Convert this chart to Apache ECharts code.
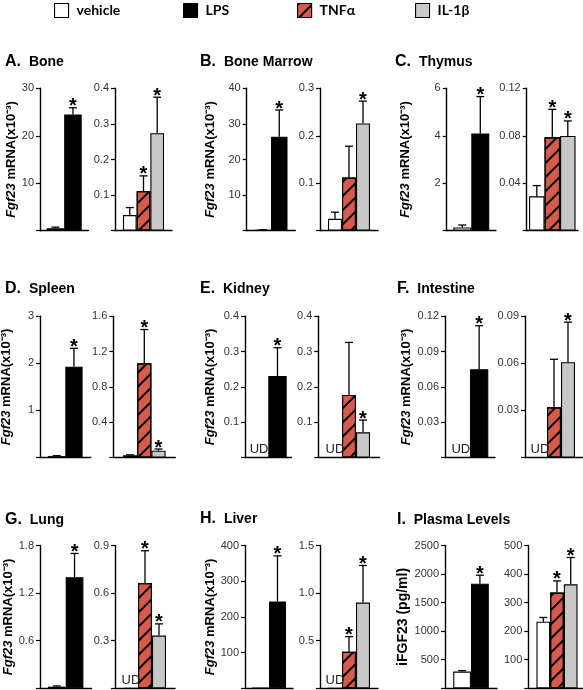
<!DOCTYPE html>
<html><head><meta charset="utf-8">
<script src="https://cdn.jsdelivr.net/npm/echarts@6.0.0/dist/echarts.min.js"></script>
<style>html,body{margin:0;padding:0;background:#fff}#c{width:583px;height:690px}</style>
</head><body><div id="c"></div>
<script>
// ---------------- data ----------------
const groups = ['vehicle', 'LPS', 'TNFα', 'IL-1β'];
const panelLetters = ['A.', 'B.', 'C.', 'D.', 'E.', 'F.', 'G.', 'H.', 'I.'];
const panelNames = ['Bone', 'Bone Marrow', 'Thymus', 'Spleen', 'Kidney', 'Intestine', 'Lung', 'Liver', 'Plasma Levels'];
// left sub-panel: vehicle vs LPS
const vehicleL    = [0.5, 0.2, 0.14, 0.03, 'UD', 'UD', 0.02, 1, 293];
const vehicleLErr = [0.25, 0.05, 0.1, 0.01, 0, 0, 0.01, 0, 17];
const lps         = [24.5, 26.4, 4.1, 1.93, 0.231, 0.075, 1.40, 243, 1830];
const lpsErr      = [1.4, 7.5, 1.55, 0.39, 0.08, 0.037, 0.30, 128, 150];
const lpsSig      = [1, 1, 1, 1, 1, 1, 1, 1, 1];
// right sub-panel: vehicle vs TNFα vs IL-1β
const vehicleR    = [0.044, 0.025, 0.029, 0.025, 'UD', 'UD', 'UD', 'UD', 233];
const vehicleRErr = [0.021, 0.014, 0.009, 0.005, 0, 0, 0, 0, 15];
const tnf         = [0.111, 0.112, 0.0787, 1.067, 0.177, 0.032, 0.663, 0.385, 335];
const tnfErr      = [0.043, 0.066, 0.0236, 0.383, 0.149, 0.0306, 0.204, 0.158, 41];
const tnfSig      = [1, 0, 1, 1, 0, 0, 1, 1, 1];
const il1b        = [0.274, 0.226, 0.0798, 0.077, 0.0714, 0.0607, 0.332, 0.90, 364];
const il1bErr     = [0.101, 0.047, 0.0127, 0.019, 0.0346, 0.0256, 0.074, 0.39, 94];
const il1bSig     = [1, 1, 1, 1, 1, 1, 1, 1, 1];
// axes (tick labels)
const leftMax  = [30, 40, 6, 3, 0.4, 0.12, 1.8, 400, 2500];
const leftInt  = [10, 10, 2, 1, 0.1, 0.03, 0.6, 100, 500];
const leftDec  = [0, 0, 0, 0, 1, 2, 1, 0, 0];
const rightMax = [0.4, 0.3, 0.12, 1.6, 0.4, 0.09, 0.9, 1.5, 500];
const rightInt = [0.1, 0.1, 0.04, 0.4, 0.1, 0.03, 0.3, 0.5, 100];
const rightDec = [1, 1, 2, 1, 1, 2, 1, 1, 0];

// ---------------- layout / style ----------------
const colors = { 'vehicle': '#ffffff', 'LPS': '#000000', 'TNFα': '#d85a4a', 'IL-1β': '#c8c8c8' };
const rowTop = [88.3, 316.3, 545.5];
const rowBot = [230.7, 457.5, 688.3];
// per sub-panel: [axisX, barsCenter, barWidth]
const subLayout = [
  [40, 64.2, 17.5], [115, 143.5, 13.7],
  [246.7, 271, 16.5], [320, 349, 14],
  [446.7, 471.3, 18], [526.7, 552.3, 15.5],
  [40, 65.3, 17.3], [113.3, 144.3, 14.2],
  [245, 268.3, 18.4], [318.3, 349, 14],
  [445, 470, 18.3], [525, 554, 14],
  [40, 65.7, 17.7], [115, 145, 14],
  [245, 269, 17], [320, 349, 14],
  [445, 471, 17.8], [528.3, 557, 13.7]
];
const nameGaps = [22, 30, 35, 27, 28, 32, 19, 23, 28];
const titlePos = [[5, 54], [200, 54], [395, 54], [5, 281], [200, 281], [397, 281], [5, 512], [200, 511], [397, 512]];
const legendLeft = [54, 183, 297, 415];

const FONT = "'Liberation Sans', Arial, sans-serif";
const decal = { symbol: 'rect', symbolSize: 1, color: '#000', dashArrayX: [1, 0], dashArrayY: [1.1, 8], rotation: -Math.PI / 4 };

function itemStyleFor(g) {
  const s = { color: colors[g], borderColor: '#000', borderWidth: 1.1 };
  if (g === 'TNFα') s.decal = decal;
  return s;
}

function errRender(n, bw) {
  return function (params, api) {
    const v = api.value(1), e = api.value(2), sig = api.value(3), slot = api.value(4);
    const p0 = api.coord([0, v]);
    const p1 = api.coord([0, v + e]);
    const x = p0[0] + (slot - (n - 1) / 2) * bw;
    const ch = [
      { type: 'line', shape: { x1: x, y1: p0[1], x2: x, y2: p1[1] }, style: { stroke: '#000', lineWidth: 1.3 } },
      { type: 'line', shape: { x1: x - 4, y1: p1[1], x2: x + 4, y2: p1[1] }, style: { stroke: '#000', lineWidth: 1.3 } }
    ];
    if (sig) ch.push({ type: 'text', x: x, y: p1[1] - 1, style: { text: '*', fontSize: 20, fontWeight: 'bold', fill: '#000', align: 'center', verticalAlign: 'middle', fontFamily: FONT } });
    return { type: 'group', children: ch };
  };
}

const grid = [], xAxis = [], yAxis = [], series = [], title = [], legend = [];

for (let p = 0; p < 9; p++) {
  const row = Math.floor(p / 3);
  title.push({
    left: titlePos[p][0], top: titlePos[p][1], padding: 0,
    text: '{a|' + panelLetters[p] + '}{b| ' + panelNames[p] + '}',
    textStyle: { rich: {
      a: { fontSize: 16, fontWeight: 'bold', fontFamily: FONT, color: '#000' },
      b: { fontSize: 14, fontWeight: 'bold', fontFamily: FONT, color: '#000', padding: [0, 0, 0, 4] }
    } }
  });
  const subs = [
    { groups: ['vehicle', 'LPS'], vals: [vehicleL[p], lps[p]], errs: [vehicleLErr[p], lpsErr[p]], sigs: [0, lpsSig[p]], max: leftMax[p], int: leftInt[p], dec: leftDec[p], left: true },
    { groups: ['vehicle', 'TNFα', 'IL-1β'], vals: [vehicleR[p], tnf[p], il1b[p]], errs: [vehicleRErr[p], tnfErr[p], il1bErr[p]], sigs: [0, tnfSig[p], il1bSig[p]], max: rightMax[p], int: rightInt[p], dec: rightDec[p], left: false }
  ];
  subs.forEach((s, k) => {
    const gi = p * 2 + k;
    const L = subLayout[gi];
    const w = 2 * (L[1] - L[0]);
    grid.push({ left: L[0], top: rowTop[row], width: w, height: rowBot[row] - rowTop[row], containLabel: false, outerBoundsMode: 'none' });
    xAxis.push({ type: 'category', gridIndex: gi, data: [''], axisTick: { show: false }, axisLabel: { show: false },
      axisLine: { lineStyle: { color: '#000', width: 1.4 } } });
    const ya = {
      type: 'value', gridIndex: gi, min: 0, max: s.max, interval: s.int,
      splitLine: { show: false },
      axisLine: { show: true, lineStyle: { color: '#000', width: 1.4 } },
      axisTick: { show: true, length: 4, lineStyle: { color: '#000', width: 1.2 } },
      axisLabel: { fontSize: 11, color: '#333', fontFamily: FONT, margin: 6,
        formatter: (v) => (Math.abs(v) < 1e-9 ? '' : v.toFixed(s.dec)) }
    };
    if (s.left) {
      ya.nameLocation = 'middle';
      ya.nameGap = nameGaps[p];
      if (p === 8) {
        ya.name = 'iFGF23 (pg/ml)';
        ya.nameTextStyle = { fontSize: 14, fontWeight: 'bold', fontFamily: FONT, color: '#000' };
      } else {
        ya.name = '{i|Fgf23} mRNA(x10⁻³)';
        ya.nameTextStyle = { fontSize: 13, fontWeight: 'bold', fontFamily: FONT, color: '#000',
          rich: { i: { fontSize: 13, fontWeight: 'bold', fontStyle: 'italic', fontFamily: FONT, color: '#000' } } };
      }
    }
    yAxis.push(ya);
    const n = s.groups.length;
    const errData = [];
    s.groups.forEach((g, j) => {
      const v = s.vals[j];
      const ud = v === 'UD';
      const item = { value: ud ? 0 : v };
      if (ud) item.label = { show: true, formatter: 'UD', position: 'insideBottom', distance: 2, fontSize: 13, color: '#222', fontFamily: FONT };
      series.push({
        type: 'bar', name: g, xAxisIndex: gi, yAxisIndex: gi, barWidth: L[2], barGap: '0%',
        itemStyle: itemStyleFor(g), data: [item], animation: false, silent: true
      });
      if (!ud && s.errs[j] > 0) errData.push([0, v, s.errs[j], s.sigs[j], j]);
    });
    series.push({ type: 'custom', xAxisIndex: gi, yAxisIndex: gi, data: errData, renderItem: errRender(n, L[2]), z: 5, clip: false, animation: false, silent: true, encode: { x: 0, y: 1 } });
  });
}

groups.forEach((g, i) => {
  legend.push({
    data: [g], left: legendLeft[i], top: 3, padding: 0, icon: 'rect', itemWidth: 14, itemHeight: 14,
    selectedMode: false,
    itemStyle: { borderColor: '#000', borderWidth: 1.1 },
    textStyle: { fontSize: 14, fontWeight: 'bold', fontFamily: "Lato, 'Liberation Sans', sans-serif", color: '#000', padding: [0, 0, 0, 3] }
  });
});

const chart = echarts.init(document.getElementById('c'), null, { renderer: 'canvas' });
chart.setOption({ animation: false, backgroundColor: '#fff', title, legend, grid, xAxis, yAxis, series });
</script>
</body></html>
